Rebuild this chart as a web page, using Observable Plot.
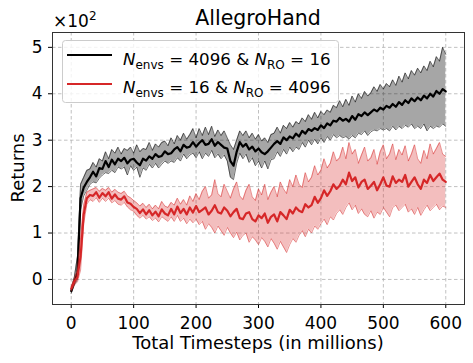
<!DOCTYPE html>
<html><head><meta charset="utf-8">
<script src="https://cdn.jsdelivr.net/npm/d3@7"></script>
<script src="https://cdn.jsdelivr.net/npm/@observablehq/plot@0.6"></script>
<style>
body{margin:0;background:#fff;}
#wrap{position:relative;width:473px;height:363px;}
</style></head><body><div id="wrap"></div>
<script>
const title = "AllegroHand";
const xLabel = "Total Timesteps (in millions)";
const yLabel = "Returns";
const xTicks = [0, 100, 200, 300, 400, 500, 600];
const yTicks = [0, 1, 2, 3, 4, 5];
const steps = d3.range(0, 601, 5);

const blackMean = [
-0.25,-0.05,0.15,1.75,1.98,2.1,2.2,2.32,2.22,2.4,
2.38,2.55,2.42,2.58,2.48,2.6,2.55,2.62,2.5,2.58,
2.6,2.52,2.46,2.6,2.56,2.65,2.6,2.7,2.64,2.66,
2.76,2.7,2.72,2.8,2.85,2.76,2.9,2.84,2.86,2.96,
2.86,2.94,3.0,2.9,2.92,3.02,2.88,2.96,2.9,2.84,
2.82,2.55,2.45,2.75,2.96,2.86,2.92,2.8,2.86,2.76,
2.82,2.74,2.7,2.76,2.84,2.92,2.98,2.92,3.06,3.0,
3.08,3.04,3.14,3.08,3.2,3.14,3.24,3.2,3.26,3.22,
3.32,3.26,3.36,3.32,3.42,3.4,3.48,3.42,3.46,3.4,
3.52,3.44,3.56,3.52,3.6,3.54,3.6,3.66,3.62,3.7,
3.66,3.74,3.7,3.78,3.72,3.82,3.76,3.86,3.8,3.9,
3.84,3.92,3.86,3.96,3.9,4.0,3.94,4.06,4.0,4.1,
4.05];
const blackHigh = [
-0.2,0.05,0.5,2.05,2.2,2.35,2.38,2.52,2.42,2.6,
2.55,2.75,2.6,2.8,2.72,2.85,2.7,2.82,2.78,2.85,
2.72,2.9,2.75,2.82,2.8,2.95,2.78,2.92,2.85,2.95,
2.98,2.88,3.05,2.92,3.1,3.0,3.15,3.02,3.12,3.25,
3.05,3.25,3.1,3.28,3.12,3.3,3.08,3.22,3.1,3.2,
3.05,2.9,2.8,3.0,3.2,3.1,3.2,3.05,3.15,3.02,
3.12,2.98,3.05,2.95,3.12,3.15,3.28,3.15,3.32,3.25,
3.38,3.28,3.4,3.35,3.48,3.4,3.55,3.45,3.6,3.48,
3.62,3.55,3.65,3.6,3.75,3.7,3.85,3.72,3.88,3.75,
3.95,3.82,4.0,3.9,4.05,3.95,4.02,4.15,4.05,4.2,
4.1,4.22,4.15,4.3,4.18,4.38,4.25,4.45,4.32,4.5,
4.4,4.55,4.45,4.6,4.5,4.7,4.58,4.8,4.7,5.0,
4.85];
const blackLow = [
-0.3,-0.12,0.0,1.5,1.8,1.92,2.05,2.1,2.08,2.18,
2.25,2.3,2.28,2.35,2.3,2.42,2.38,2.42,2.25,2.45,
2.35,2.42,2.2,2.4,2.35,2.48,2.4,2.5,2.4,2.48,
2.55,2.5,2.55,2.52,2.62,2.55,2.7,2.6,2.68,2.72,
2.62,2.75,2.6,2.72,2.65,2.78,2.62,2.7,2.6,2.68,
2.55,2.2,2.15,2.5,2.72,2.6,2.7,2.52,2.62,2.45,
2.55,2.4,2.55,2.38,2.58,2.6,2.75,2.65,2.8,2.7,
2.85,2.75,2.85,2.8,2.95,2.85,3.0,2.9,3.02,2.92,
3.05,2.95,3.08,3.0,3.12,3.05,3.1,3.05,3.08,3.02,
3.1,3.05,3.15,3.12,3.2,3.1,3.18,3.22,3.2,3.25,
3.22,3.25,3.2,3.3,3.22,3.3,3.25,3.32,3.28,3.35,
3.25,3.3,3.25,3.35,3.2,3.3,3.25,3.3,3.28,3.35,
3.3];
const redMean = [
-0.2,-0.05,0.05,0.5,1.4,1.75,1.82,1.8,1.88,1.76,
1.86,1.79,1.88,1.74,1.83,1.74,1.72,1.79,1.66,1.63,
1.56,1.52,1.43,1.51,1.4,1.49,1.38,1.46,1.36,1.51,
1.42,1.38,1.52,1.4,1.57,1.43,1.52,1.4,1.55,1.44,
1.58,1.45,1.5,1.55,1.4,1.48,1.6,1.45,1.42,1.55,
1.48,1.36,1.45,1.52,1.32,1.3,1.42,1.45,1.3,1.25,
1.38,1.32,1.42,1.22,1.35,1.4,1.25,1.45,1.38,1.3,
1.5,1.42,1.55,1.48,1.45,1.62,1.55,1.6,1.78,1.65,
1.75,1.92,1.8,1.9,2.05,1.95,2.02,2.15,2.05,2.3,
2.12,2.2,1.98,2.1,2.15,1.95,2.02,2.1,1.92,2.05,
2.2,2.02,2.0,2.22,2.08,2.15,2.1,2.25,2.0,2.1,
2.2,2.05,1.95,2.15,2.08,2.25,2.12,2.2,2.28,2.15,
2.1];
const redHigh = [
-0.15,0.02,0.2,0.9,1.6,1.88,1.92,1.95,1.98,1.9,
1.96,1.92,1.98,1.88,1.94,1.88,1.85,1.9,1.8,1.76,
1.7,1.65,1.58,1.64,1.55,1.62,1.52,1.6,1.52,1.68,
1.58,1.55,1.66,1.6,1.75,1.62,1.72,1.6,1.8,1.68,
1.85,1.72,1.9,2.0,1.75,1.82,2.15,1.85,1.78,2.05,
1.9,1.75,1.95,2.1,1.8,1.72,1.92,2.05,1.78,1.7,
1.95,1.82,2.05,1.72,1.88,2.0,1.78,2.1,1.95,1.85,
2.15,2.0,2.25,2.05,1.98,2.3,2.1,2.2,2.45,2.25,
2.35,2.6,2.4,2.5,2.75,2.55,2.62,2.85,2.6,2.95,
2.7,2.8,2.5,2.68,2.85,2.55,2.62,2.8,2.48,2.75,
2.9,2.6,2.7,2.92,2.58,2.8,2.68,2.88,2.55,2.7,
2.9,2.6,2.5,2.78,2.6,2.92,2.7,2.82,2.95,2.7,
2.65];
const redLow = [
-0.25,-0.12,-0.05,0.2,1.2,1.62,1.72,1.68,1.76,1.66,
1.75,1.68,1.75,1.65,1.7,1.62,1.6,1.66,1.56,1.5,
1.47,1.38,1.32,1.38,1.3,1.35,1.27,1.32,1.24,1.35,
1.3,1.25,1.35,1.25,1.38,1.25,1.32,1.2,1.3,1.22,
1.3,1.18,1.25,1.08,1.2,1.12,1.0,1.15,1.05,0.95,
1.12,1.0,0.9,1.02,0.85,0.95,1.0,0.8,0.92,0.85,
0.75,0.9,0.82,0.7,0.88,0.78,0.65,0.82,0.7,0.58,
0.75,0.88,0.8,0.95,1.05,0.92,1.08,1.0,1.15,1.08,
1.2,1.3,1.18,1.35,1.28,1.42,1.5,1.4,1.55,1.65,
1.5,1.6,1.42,1.52,1.4,1.35,1.48,1.32,1.45,1.4,
1.55,1.45,1.35,1.55,1.6,1.48,1.55,1.62,1.45,1.52,
1.4,1.55,1.38,1.5,1.6,1.48,1.55,1.62,1.5,1.58,
1.55];
const seriesColors = ["#000000", "#d62728"];

const rows = steps.map((t, i) => ({
  t,
  bm: blackMean[i], blo: blackLow[i], bhi: blackHigh[i],
  rm: redMean[i], rlo: redLow[i], rhi: redHigh[i]
}));

const font = "DejaVu Sans";
const chart = Plot.plot({
  width: 473, height: 363,
  marginLeft: 52, marginRight: 9, marginTop: 32, marginBottom: 59,
  style: {fontFamily: font, fontSize: "17px", color: "#000", background: "#fff"},
  x: {domain: [-30, 630]},
  y: {domain: [-0.54, 5.32]},
  marks: [
    Plot.gridX(xTicks, {stroke: "#b0b0b0", strokeOpacity: 0.8, strokeDasharray: "3.5,2.5"}),
    Plot.gridY(yTicks, {stroke: "#b0b0b0", strokeOpacity: 0.8, strokeDasharray: "3.5,2.5"}),
    Plot.areaY(rows, {x: "t", y1: "blo", y2: "bhi", fill: seriesColors[0], fillOpacity: 0.35}),
    Plot.lineY(rows, {x: "t", y: "blo", stroke: seriesColors[0], strokeOpacity: 0.55, strokeWidth: 1}),
    Plot.lineY(rows, {x: "t", y: "bhi", stroke: seriesColors[0], strokeOpacity: 0.55, strokeWidth: 1}),
    Plot.lineY(rows, {x: "t", y: "bm", stroke: seriesColors[0], strokeWidth: 2.2}),
    Plot.areaY(rows, {x: "t", y1: "rlo", y2: "rhi", fill: seriesColors[1], fillOpacity: 0.3}),
    Plot.lineY(rows, {x: "t", y: "rlo", stroke: seriesColors[1], strokeOpacity: 0.5, strokeWidth: 1}),
    Plot.lineY(rows, {x: "t", y: "rhi", stroke: seriesColors[1], strokeOpacity: 0.5, strokeWidth: 1}),
    Plot.lineY(rows, {x: "t", y: "rm", stroke: seriesColors[1], strokeWidth: 2.2}),
    Plot.axisX({ticks: xTicks, tickSize: 4, tickPadding: 8, fontSize: 17, tickFormat: d3.format("d"), label: null}),
    Plot.axisY({ticks: yTicks, tickSize: 4, tickPadding: 6, fontSize: 17, tickFormat: d3.format("d"), label: null}),
    Plot.frame({stroke: "#333", strokeWidth: 1})
  ]
});
document.getElementById("wrap").appendChild(chart);

const svg = d3.select(chart);
const g = svg.append("g").attr("font-family", font).attr("fill", "#000");
g.append("text").attr("x", 258).attr("y", 25).attr("text-anchor", "middle").attr("font-size", 20.5).text(title);
const mult = g.append("text").attr("x", 53).attr("y", 26.5).attr("text-anchor", "start").attr("font-size", 17);
mult.append("tspan").text("×10");
mult.append("tspan").attr("font-size", 12).attr("dy", -7).text("2");
g.append("text").attr("x", 258).attr("y", 349).attr("text-anchor", "middle").attr("font-size", 18).text(xLabel);
g.append("text").attr("transform", "translate(24,168) rotate(-90)").attr("text-anchor", "middle").attr("font-size", 18).text(yLabel);

// legend
const lg = g.append("g");
lg.append("rect").attr("x", 62.5).attr("y", 40.5).attr("width", 276).attr("height", 62).attr("rx", 3)
  .attr("fill", "#fff").attr("fill-opacity", 0.8).attr("stroke", "#cccccc");
const legendParts = [
  [["N", "envs", " = 4096 & "], ["N", "RO", " = 16"]],
  [["N", "envs", " = 16 & "], ["N", "RO", " = 4096"]]
];
const lineYs = [55, 84];
const textYs = [65, 93];
legendParts.forEach((parts, i) => {
  const y = lineYs[i];
  lg.append("line").attr("x1", 67).attr("x2", 112).attr("y1", y).attr("y2", y)
    .attr("stroke", seriesColors[i]).attr("stroke-width", 2);
  const t = lg.append("text").attr("x", 123).attr("y", textYs[i]).attr("text-anchor", "start")
    .attr("font-size", 16.7).style("white-space", "pre");
  parts.forEach(([n, sub, rest]) => {
    t.append("tspan").attr("font-style", "italic").text(n);
    t.append("tspan").attr("font-size", 12).attr("dy", 4).text(sub);
    t.append("tspan").attr("dy", -4).text(rest);
  });
});
</script>
</body></html>
